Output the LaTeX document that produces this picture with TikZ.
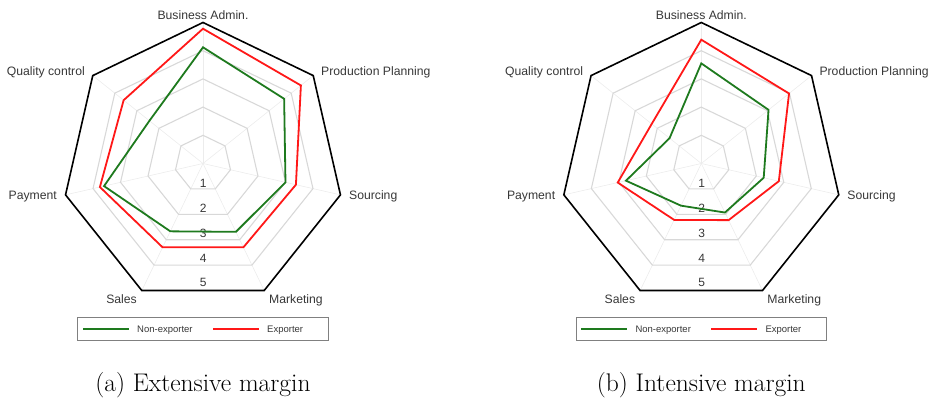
\documentclass[tikz,border=0pt]{standalone}
\usepackage{fontspec}
\newfontfamily\arial{Liberation Sans}
\definecolor{ngreen}{RGB}{30,122,30}
\definecolor{nred}{RGB}{255,24,24}
\definecolor{ringgray}{RGB}{216,216,216}
\definecolor{spokegray}{RGB}{236,236,236}
\definecolor{lbl}{RGB}{55,55,55}
\definecolor{boxgray}{RGB}{128,128,128}
\tikzset{
  spokeline/.style={draw=spokegray, line width=0.6pt},
  ringline/.style={draw=ringgray, line width=1.1pt, line join=miter},
  outerline/.style={draw=black, line width=1.6pt, line join=miter},
  greenline/.style={draw=ngreen, line width=1.8pt, line join=miter},
  redline/.style={draw=nred, line width=1.8pt, line join=miter},
  axislabel/.style={inner sep=0pt, text=lbl, font=\arial\fontsize{12.2}{14}\selectfont},
  numlabel/.style={inner sep=0pt, text=lbl, font=\arial\fontsize{12}{14}\selectfont},
  legtext/.style={inner sep=0pt, anchor=base west, text=lbl, font=\arial\fontsize{9.5}{11}\selectfont},
  legbox/.style={draw=boxgray, line width=1pt},
  captext/.style={inner sep=0pt, anchor=base, font=\fontsize{25.5}{30}\selectfont}
}
\def\u{28.2}
% #1 prefix, #2 style, #3..#9 values (BA, PP, Sourcing, Marketing, Sales, Payment, QC)
\newcommand\radarseries[9]{%
  \coordinate (#1-1) at (90:{#3*\u});
  \coordinate (#1-2) at ({90-360/7}:{#4*\u});
  \coordinate (#1-3) at ({90-720/7}:{#5*\u});
  \coordinate (#1-4) at ({90-1080/7}:{#6*\u});
  \coordinate (#1-5) at ({90-1440/7}:{#7*\u});
  \coordinate (#1-6) at ({90-1800/7}:{#8*\u});
  \coordinate (#1-7) at ({90-2160/7}:{#9*\u});
  \draw[#2] (#1-1) -- (#1-2) -- (#1-3) -- (#1-4) -- (#1-5) -- (#1-6) -- (#1-7) -- cycle;
}
\newcommand\radarframe[2]{% #1 prefix, #2 caption
  \coordinate (#1-c) at (0,0);
  \foreach \i in {1,...,7} {
    \coordinate (#1-v\i) at ({90-(\i-1)*360/7}:{5*\u});
    \draw[spokeline] (#1-c) -- (#1-v\i);
  }
  \foreach \k in {1,...,4} {
    \draw[ringline] (90:{\k*\u}) \foreach \i in {1,...,6} { -- ({90-\i*360/7}:{\k*\u}) } -- cycle;
  }
  \draw[outerline] (#1-v1) -- (#1-v2) -- (#1-v3) -- (#1-v4) -- (#1-v5) -- (#1-v6) -- (#1-v7) -- cycle;
  \foreach \k in {1,...,5} {
    \node[numlabel, anchor=base] (#1-n\k) at (0.3,{-24.5-24.7*(\k-1)}) {\k};
  }
  \node[axislabel, anchor=base] (#1-lba) at ($(#1-v1)+(0,3.2)$) {Business Admin.};
  \node[axislabel, anchor=base west] (#1-lpp) at ($(#1-v2)+(7.8,0)$) {Production Planning};
  \node[axislabel, anchor=base west] (#1-lso) at ($(#1-v3)+(8.5,-5)$) {Sourcing};
  \node[axislabel, anchor=base west] (#1-lma) at ($(#1-v4)+(4.8,-12.5)$) {Marketing};
  \node[axislabel, anchor=base east] (#1-lsa) at ($(#1-v5)+(-4.8,-12.5)$) {Sales};
  \node[axislabel, anchor=base east] (#1-lpa) at ($(#1-v6)+(-8.5,-5)$) {Payment};
  \node[axislabel, anchor=base east] (#1-lqc) at ($(#1-v7)+(-7.8,0)$) {Quality control};
  % legend
  \draw[legbox] (-125.3,-176.5) rectangle (125.3,-154.2);
  \coordinate (#1-lg1) at (-120,-165.8);
  \coordinate (#1-lg2) at (-74,-165.8);
  \coordinate (#1-lr1) at (10,-165.8);
  \coordinate (#1-lr2) at (56,-165.8);
  \draw[greenline] (#1-lg1) -- (#1-lg2);
  \draw[redline] (#1-lr1) -- (#1-lr2);
  \node[legtext] (#1-tg) at (-66,-169.2) {Non-exporter};
  \node[legtext] (#1-tr) at (64,-169.2) {Exporter};
  \node[captext] (#1-cap) at (0,-227.5) {#2};
}
\usetikzlibrary{calc}
\begin{document}
\begin{tikzpicture}[x=1pt,y=1pt]
\useasboundingbox (0,0) rectangle (934,399);
\begin{scope}[shift={(203,235.5)}]
  \radarframe{a}{(a) Extensive margin}
  \radarseries{ag}{greenline}{4.12}{3.68}{3.0}{2.69}{2.67}{3.6}{2.43}
  \radarseries{ar}{redline}{4.78}{4.44}{3.38}{3.30}{3.30}{3.75}{3.6}
\end{scope}
\begin{scope}[shift={(701.3,235.5)}]
  \radarframe{b}{(b) Intensive margin}
  \radarseries{bg}{greenline}{3.55}{3.05}{2.27}{1.93}{1.66}{2.74}{1.44}
  \radarseries{br}{redline}{4.39}{3.98}{2.82}{2.23}{2.22}{3.04}{2.25}
\end{scope}
\end{tikzpicture}
\end{document}
